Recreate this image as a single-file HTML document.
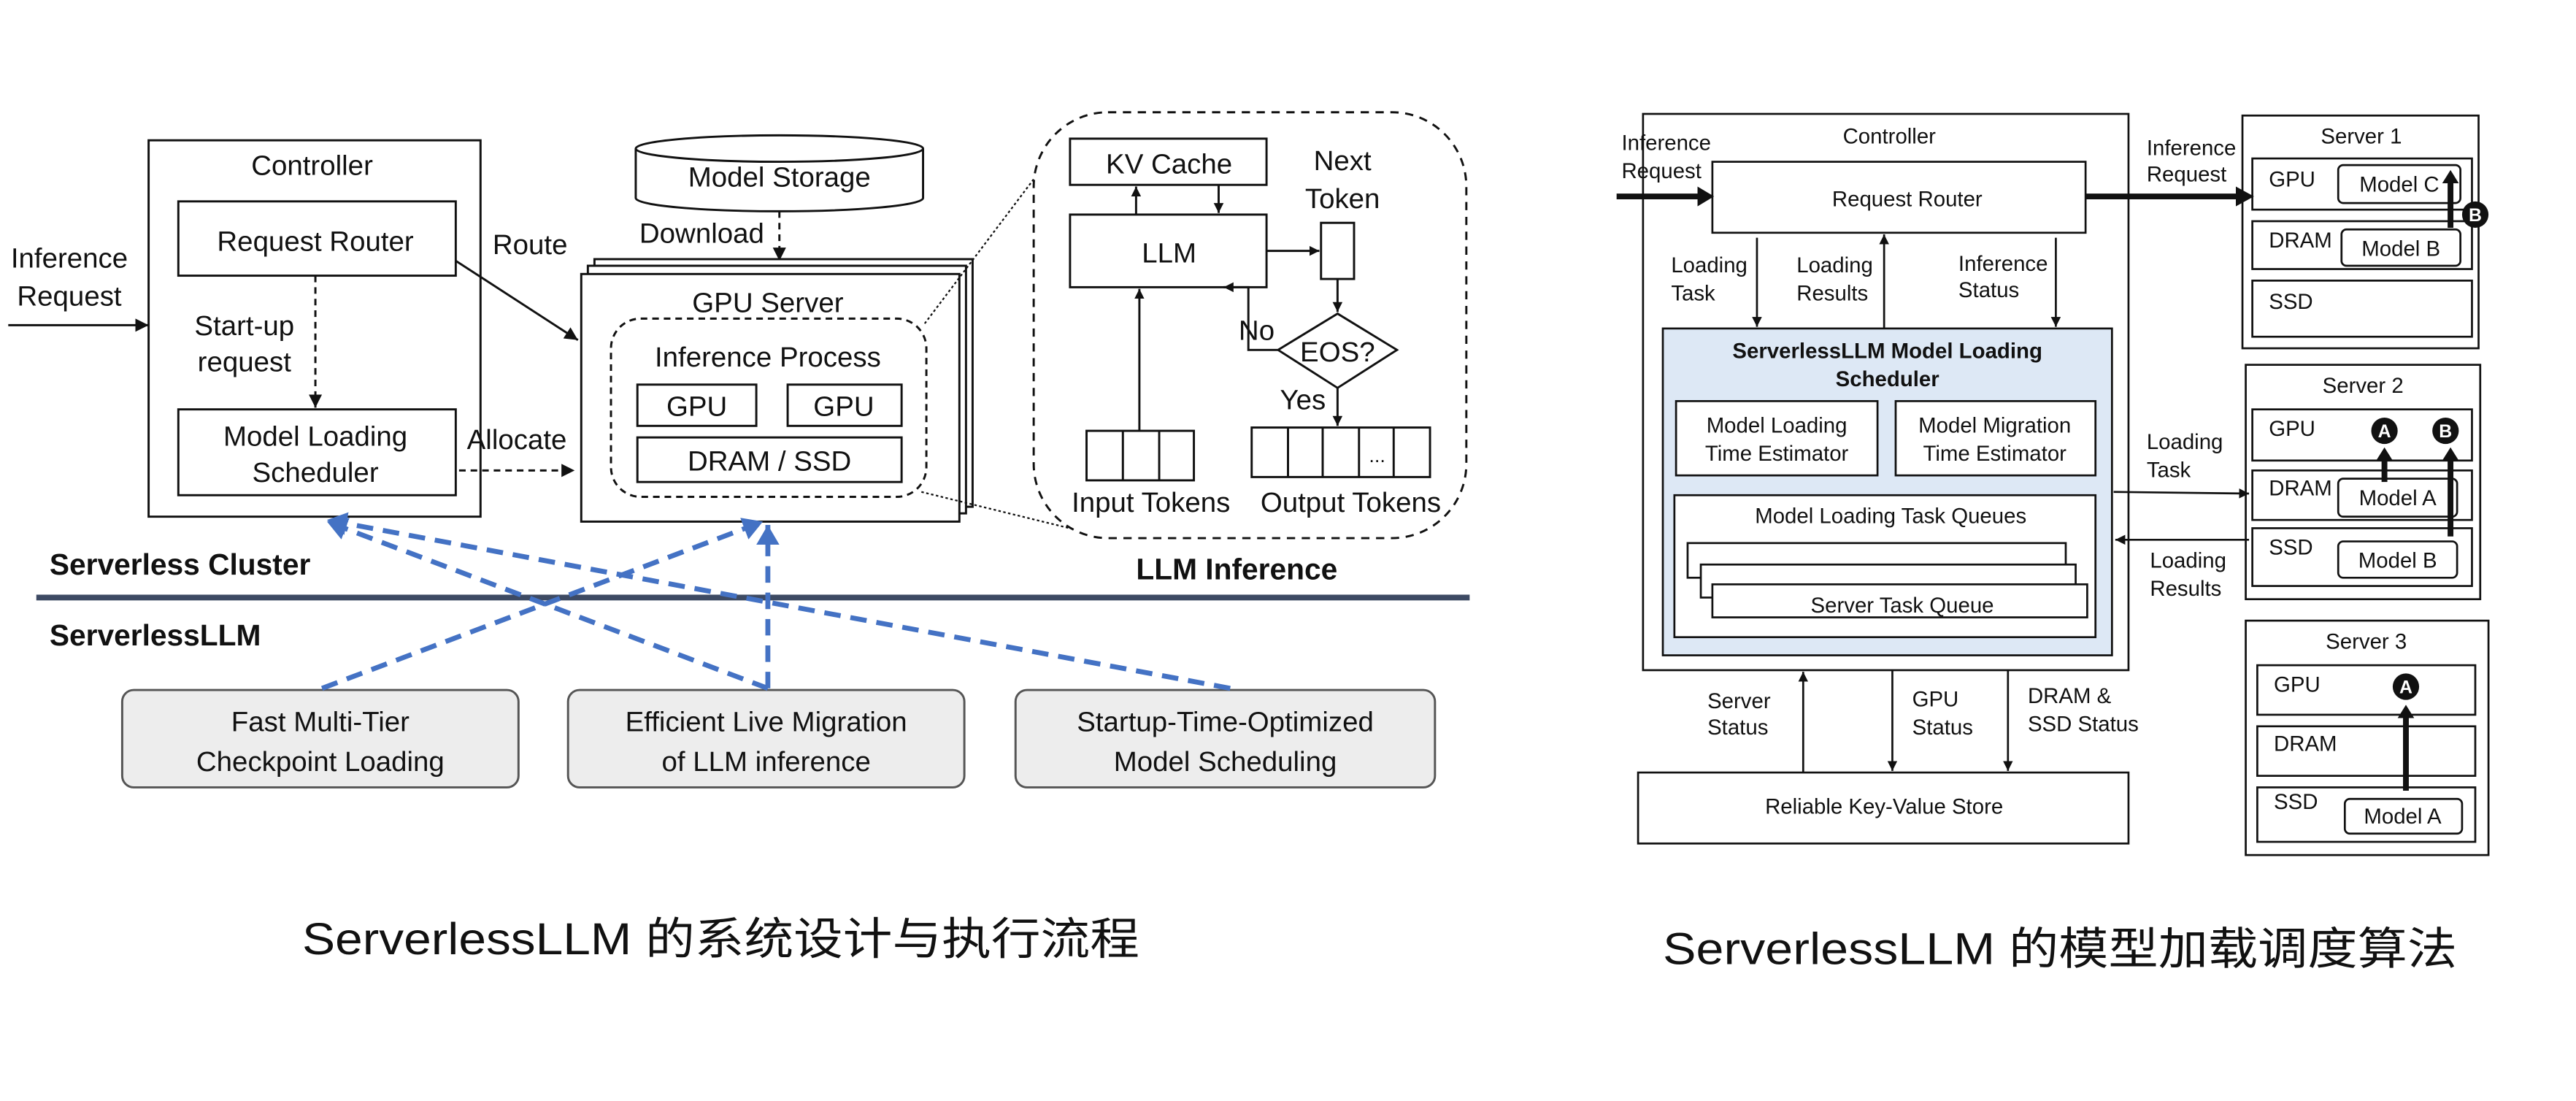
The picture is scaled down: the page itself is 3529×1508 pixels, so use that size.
<!DOCTYPE html>
<html><head><meta charset="utf-8"><style>
html,body{margin:0;padding:0;background:#fff;}
svg{display:block;}
text{font-family:"Liberation Sans","Noto Sans CJK SC",sans-serif;fill:#111;}
</style></head><body>
<svg width="3529" height="1508" viewBox="0 0 1560 667" preserveAspectRatio="none" xmlns="http://www.w3.org/2000/svg">
<defs>
<marker id="a" markerUnits="userSpaceOnUse" markerWidth="10" markerHeight="10" refX="8" refY="4" orient="auto"><path d="M0,0 L8,4 L0,8 z" fill="#111"/></marker>
<marker id="as" markerUnits="userSpaceOnUse" markerWidth="8" markerHeight="8" refX="6" refY="3" orient="auto"><path d="M0,0 L6,3 L0,6 z" fill="#111"/></marker>
<marker id="ab" markerUnits="userSpaceOnUse" markerWidth="16" markerHeight="16" refX="12" refY="7" orient="auto"><path d="M0,0 L12,7 L0,14 z" fill="#4472c4"/></marker>
</defs>
<rect width="1560" height="667" fill="#fff"/>

<!-- LEFT DIAGRAM -->
<g stroke="#111" fill="none" stroke-width="1.3">
<rect x="90" y="85" width="201" height="228"/>
<rect x="108" y="122" width="168" height="45"/>
<rect x="108" y="248" width="168" height="52"/>
<line x1="5" y1="197" x2="90" y2="197" marker-end="url(#a)"/>
<line x1="191" y1="167" x2="191" y2="247" stroke-dasharray="4,3" marker-end="url(#a)"/>
<line x1="276" y1="158" x2="350" y2="206" marker-end="url(#a)"/>
<line x1="278" y1="285" x2="348" y2="285" stroke-dasharray="4,3" marker-end="url(#a)"/>
<!-- cylinder -->
<path d="M385,90 L385,120 A87,8 0 0 0 559,120 L559,90" fill="#fff"/>
<ellipse cx="472" cy="90" rx="87" ry="8" fill="#fff"/>
<line x1="472" y1="128" x2="472" y2="158" stroke-dasharray="4,3" marker-end="url(#a)"/>
<!-- GPU server stack -->
<rect x="360" y="157" width="229" height="150" fill="#fff"/>
<rect x="356" y="161" width="229" height="150" fill="#fff"/>
<rect x="352" y="166" width="229" height="150" fill="#fff"/>
<rect x="370" y="193" width="191" height="108" rx="18" stroke-dasharray="4,3"/>
<rect x="386" y="233" width="72" height="25"/>
<rect x="477" y="233" width="69" height="25"/>
<rect x="386" y="265" width="160" height="27"/>
<!-- dotted zoom lines -->
<line x1="560" y1="196" x2="640" y2="90" stroke-dasharray="1.5,1.5" stroke-width="1"/>
<line x1="558" y1="298" x2="660" y2="323" stroke-dasharray="1.5,1.5" stroke-width="1"/>
<!-- LLM inference -->
<rect x="626" y="68" width="262" height="258" rx="45" stroke-dasharray="5,4" fill="#fff"/>
<rect x="648" y="84" width="119" height="28"/>
<rect x="648" y="130" width="119" height="44"/>
<line x1="688" y1="130" x2="688" y2="113" marker-end="url(#as)"/>
<line x1="738" y1="112" x2="738" y2="129" marker-end="url(#as)"/>
<rect x="800" y="135" width="20" height="34"/>
<line x1="767" y1="152" x2="799" y2="152" marker-end="url(#as)"/>
<line x1="810" y1="169" x2="810" y2="189" marker-end="url(#as)"/>
<path d="M810,190 L846,212 L810,235 L774,212 Z"/>
<polyline points="774,212 756,212 756,174 741,174" marker-end="url(#as)"/>
<line x1="810" y1="235" x2="810" y2="258" marker-end="url(#as)"/>
<rect x="658" y="261" width="65" height="30"/>
<line x1="680" y1="261" x2="680" y2="291"/><line x1="702" y1="261" x2="702" y2="291"/>
<line x1="690" y1="261" x2="690" y2="175" marker-end="url(#as)"/>
<rect x="758" y="259" width="108" height="30"/>
<line x1="780" y1="259" x2="780" y2="289"/><line x1="801" y1="259" x2="801" y2="289"/>
<line x1="823" y1="259" x2="823" y2="289"/><line x1="844" y1="259" x2="844" y2="289"/>
</g>
<line x1="22" y1="362" x2="890" y2="362" stroke="#3d4a63" stroke-width="3.5"/>
<g stroke="#555" stroke-width="1.3" fill="#ededed">
<rect x="74" y="418" width="240" height="59" rx="7"/>
<rect x="344" y="418" width="240" height="59" rx="7"/>
<rect x="615" y="418" width="254" height="59" rx="7"/>
</g>
<g stroke="#4472c4" stroke-width="3" fill="none" stroke-dasharray="10,6">
<line x1="195" y1="417" x2="462" y2="316" marker-end="url(#ab)"/>
<line x1="465" y1="417" x2="465" y2="318" marker-end="url(#ab)"/>
<line x1="465" y1="417" x2="198" y2="316" marker-end="url(#ab)"/>
<line x1="745" y1="417" x2="198" y2="315" marker-end="url(#ab)"/>
</g>
<g font-size="17" text-anchor="middle">
<text x="42" y="162">Inference</text><text x="42" y="185">Request</text>
<text x="189" y="106">Controller</text>
<text x="191" y="152">Request Router</text>
<text x="148" y="203">Start-up</text><text x="148" y="225">request</text>
<text x="191" y="270">Model Loading</text><text x="191" y="292">Scheduler</text>
<text x="321" y="154">Route</text>
<text x="313" y="272">Allocate</text>
<text x="472" y="113">Model Storage</text>
<text x="425" y="147">Download</text>
<text x="465" y="189">GPU Server</text>
<text x="465" y="222">Inference Process</text>
<text x="422" y="252">GPU</text><text x="511" y="252">GPU</text>
<text x="466" y="285">DRAM / SSD</text>
<text x="708" y="105">KV Cache</text>
<text x="708" y="159">LLM</text>
<text x="813" y="103">Next</text><text x="813" y="126">Token</text>
<text x="810" y="219">EOS?</text>
<text x="761" y="206">No</text>
<text x="789" y="248">Yes</text>
<text x="834" y="280" font-size="12">...</text>
<text x="697" y="310">Input Tokens</text>
<text x="818" y="310">Output Tokens</text>
<text x="194" y="443">Fast Multi-Tier</text><text x="194" y="467">Checkpoint Loading</text>
<text x="464" y="443">Efficient Live Migration</text><text x="464" y="467">of LLM inference</text>
<text x="742" y="443">Startup-Time-Optimized</text><text x="742" y="467">Model Scheduling</text>
</g>
<g font-size="18" font-weight="bold">
<text x="30" y="348">Serverless Cluster</text>
<text x="688" y="351">LLM Inference</text>
<text x="30" y="391">ServerlessLLM</text>
</g>
<text x="183" y="578" font-size="27" textLength="507" lengthAdjust="spacingAndGlyphs">ServerlessLLM 的系统设计与执行流程</text>

<!-- RIGHT DIAGRAM -->
<g stroke="#111" fill="none" stroke-width="1.2">
<rect x="995" y="69" width="294" height="337"/>
<rect x="1037" y="98" width="226" height="43"/>
<rect x="1007" y="199" width="272" height="198" fill="#dde8f5"/>
<rect x="1015" y="243" width="122" height="45" fill="#fff"/>
<rect x="1148" y="243" width="121" height="45" fill="#fff"/>
<rect x="1014" y="300" width="255" height="86" fill="#fff"/>
<rect x="1022" y="329" width="229" height="21" fill="#fff"/>
<rect x="1030" y="342" width="227" height="20" fill="#fff"/>
<rect x="1037" y="354" width="227" height="20" fill="#fff"/>
<rect x="992" y="468" width="297" height="43"/>
<line x1="1064" y1="144" x2="1064" y2="198" marker-end="url(#as)"/>
<line x1="1141" y1="199" x2="1141" y2="142" marker-end="url(#as)"/>
<line x1="1245" y1="144" x2="1245" y2="198" marker-end="url(#as)"/>
<line x1="1092" y1="468" x2="1092" y2="407" marker-end="url(#as)"/>
<line x1="1146" y1="406" x2="1146" y2="467" marker-end="url(#as)"/>
<line x1="1216" y1="406" x2="1216" y2="467" marker-end="url(#as)"/>
<line x1="1280" y1="298" x2="1362" y2="299" marker-end="url(#as)"/>
<line x1="1362" y1="327" x2="1281" y2="327" marker-end="url(#as)"/>
<!-- servers -->
<rect x="1358" y="70" width="143" height="141"/>
<rect x="1364" y="96" width="133" height="31"/>
<rect x="1364" y="134" width="133" height="29"/>
<rect x="1364" y="170" width="133" height="34"/>
<rect x="1416" y="100" width="74" height="23" rx="3"/>
<rect x="1418" y="139" width="72" height="22" rx="3"/>
<rect x="1360" y="221" width="142" height="142"/>
<rect x="1364" y="248" width="133" height="31"/>
<rect x="1364" y="285" width="133" height="30"/>
<rect x="1364" y="320" width="133" height="35"/>
<rect x="1416" y="290" width="72" height="23" rx="3"/>
<rect x="1416" y="328" width="72" height="22" rx="3"/>
<rect x="1360" y="376" width="147" height="142"/>
<rect x="1367" y="403" width="132" height="30"/>
<rect x="1367" y="440" width="132" height="30"/>
<rect x="1367" y="477" width="132" height="33"/>
<rect x="1420" y="484" width="71" height="21" rx="3"/>
</g>
<g stroke="#111" stroke-width="3.5" fill="none">
<line x1="979" y1="119" x2="1030" y2="119"/>
<line x1="1263" y1="119" x2="1356" y2="119"/>
<line x1="1484" y1="138" x2="1484" y2="110"/>
<line x1="1444" y1="292" x2="1444" y2="278"/>
<line x1="1484" y1="325" x2="1484" y2="278"/>
<line x1="1457" y1="479" x2="1457" y2="434"/>
</g>
<g fill="#111">
<path d="M1028,113 L1038,119 L1028,125 Z"/>
<path d="M1354,113 L1365,119 L1354,125 Z"/>
<path d="M1479,111 L1484,103 L1489,111 Z"/>
<path d="M1439,279 L1444,271 L1449,279 Z"/>
<path d="M1479,279 L1484,271 L1489,279 Z"/>
<path d="M1452,435 L1457,427 L1462,435 Z"/>
<circle cx="1499" cy="130" r="8"/>
<circle cx="1444" cy="261" r="8"/>
<circle cx="1481" cy="261" r="8"/>
<circle cx="1457" cy="416" r="8"/>
</g>
<g font-size="11" font-weight="bold" fill="#fff" text-anchor="middle">
<text x="1499" y="134" style="fill:#fff">B</text>
<text x="1444" y="265" style="fill:#fff">A</text>
<text x="1481" y="265" style="fill:#fff">B</text>
<text x="1457" y="420" style="fill:#fff">A</text>
</g>
<g font-size="13">
<text x="982" y="91">Inference</text><text x="982" y="108">Request</text>
<text x="1116" y="87">Controller</text>
<text x="1155" y="125" text-anchor="middle">Request Router</text>
<text x="1012" y="165">Loading</text><text x="1012" y="182">Task</text>
<text x="1088" y="165">Loading</text><text x="1088" y="182">Results</text>
<text x="1186" y="164">Inference</text><text x="1186" y="180">Status</text>
<text x="1143" y="217" text-anchor="middle" font-weight="bold">ServerlessLLM Model Loading</text>
<text x="1143" y="234" text-anchor="middle" font-weight="bold">Scheduler</text>
<text x="1076" y="262" text-anchor="middle">Model Loading</text><text x="1076" y="279" text-anchor="middle">Time Estimator</text>
<text x="1208" y="262" text-anchor="middle">Model Migration</text><text x="1208" y="279" text-anchor="middle">Time Estimator</text>
<text x="1145" y="317" text-anchor="middle">Model Loading Task Queues</text>
<text x="1152" y="371" text-anchor="middle">Server Task Queue</text>
<text x="1034" y="429">Server</text><text x="1034" y="445">Status</text>
<text x="1158" y="428">GPU</text><text x="1158" y="445">Status</text>
<text x="1228" y="426">DRAM &amp;</text><text x="1228" y="443">SSD Status</text>
<text x="1141" y="493" text-anchor="middle">Reliable Key-Value Store</text>
<text x="1300" y="94">Inference</text><text x="1300" y="110">Request</text>
<text x="1300" y="272">Loading</text><text x="1300" y="289">Task</text>
<text x="1302" y="344">Loading</text><text x="1302" y="361">Results</text>
<text x="1430" y="87" text-anchor="middle">Server 1</text>
<text x="1374" y="113">GPU</text><text x="1453" y="116" text-anchor="middle">Model C</text>
<text x="1374" y="150">DRAM</text><text x="1454" y="155" text-anchor="middle">Model B</text>
<text x="1374" y="187">SSD</text>
<text x="1431" y="238" text-anchor="middle">Server 2</text>
<text x="1374" y="264">GPU</text>
<text x="1374" y="300">DRAM</text><text x="1452" y="306" text-anchor="middle">Model A</text>
<text x="1374" y="336">SSD</text><text x="1452" y="344" text-anchor="middle">Model B</text>
<text x="1433" y="393" text-anchor="middle">Server 3</text>
<text x="1377" y="419">GPU</text>
<text x="1377" y="455">DRAM</text>
<text x="1377" y="490">SSD</text><text x="1455" y="499" text-anchor="middle">Model A</text>
</g>
<text x="1007" y="584" font-size="27" textLength="481" lengthAdjust="spacingAndGlyphs">ServerlessLLM 的模型加载调度算法</text>
</svg>
</body></html>
